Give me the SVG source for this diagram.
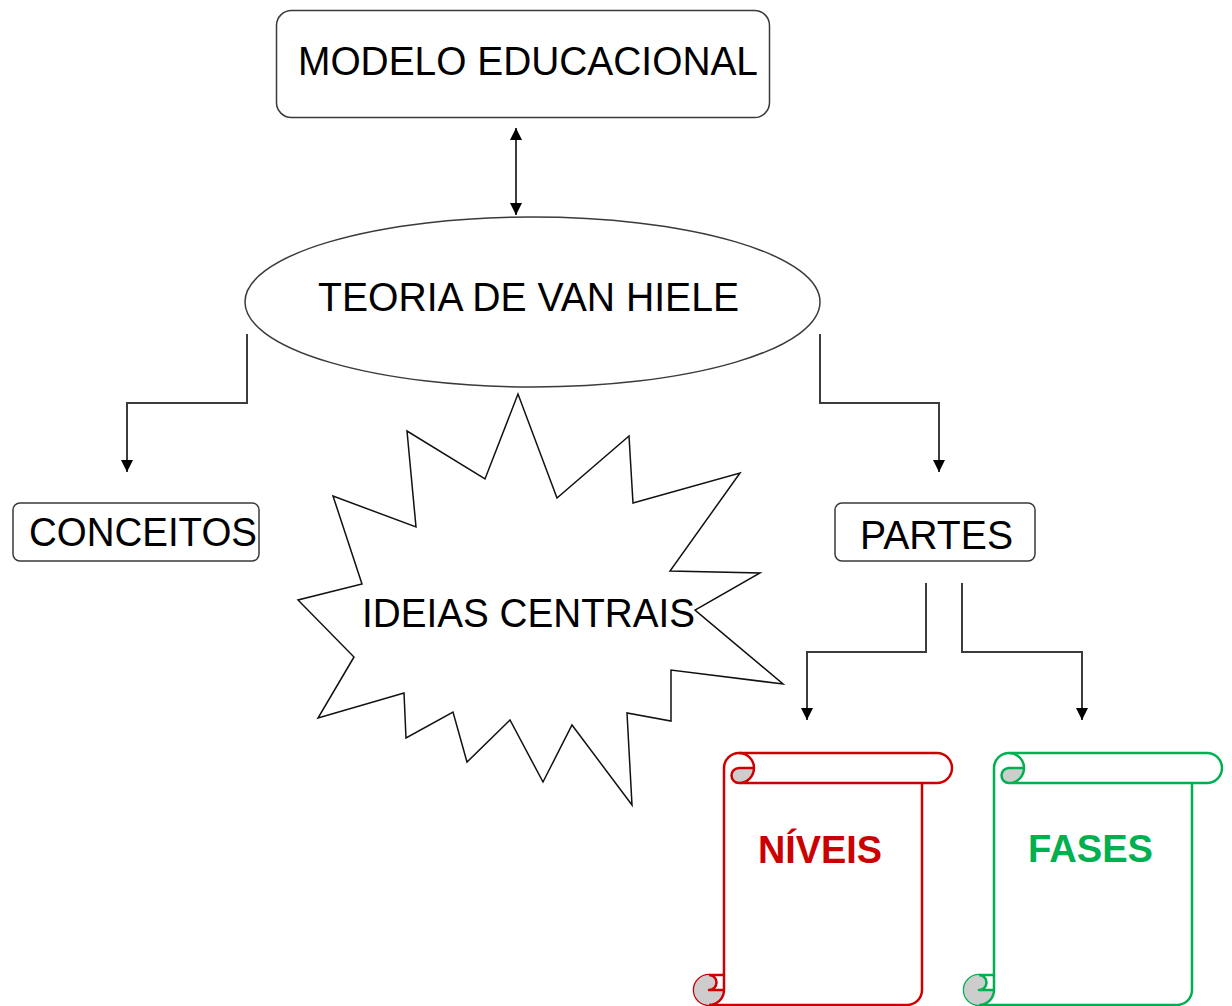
<svg xmlns="http://www.w3.org/2000/svg" width="1232" height="1006" viewBox="0 0 1232 1006">
<style>
.box{fill:#fff;stroke:#3a3a3a;stroke-width:1.5}
.lbl{font-family:"Liberation Sans",Arial,sans-serif;font-size:41px;fill:#000}
.bold{font-family:"Liberation Sans",Arial,sans-serif;font-size:38px;font-weight:bold}
.conn{fill:none;stroke:#3c3c3c;stroke-width:2}
.scroll-red{fill:#fff;stroke:#cc0000;stroke-width:2.5;stroke-linejoin:round}
.scroll-green{fill:#fff;stroke:#00b050;stroke-width:2.5;stroke-linejoin:round}
.curl{fill:#cdcdcd;stroke:none}
</style>
<defs>
<marker id="ah" markerUnits="userSpaceOnUse" markerWidth="12" markerHeight="14" viewBox="0 0 12 14" refX="12" refY="7" orient="auto-start-reverse">
<path d="M0,1 L12,7 L0,13 Z" fill="#000"/>
</marker>
<path id="scrollBody" d="M724,975 L724,768 A15,15 0 0 1 739,753 L937,753 A15,15 0 0 1 937,783 L922,783 L922,990 A15,15 0 0 1 907,1005 L709,1005 A15,15 0 0 1 709,975 Z"/>
<path id="scrollCurl" d="M754,768 A15,15 0 0 1 739,783 A7.5,7.5 0 0 1 739,768 Z M724,990 A15,15 0 1 1 709,975 A7.5,7.5 0 0 1 709,990 Z"/>
<path id="scrollLines" d="M739,753 A15,15 0 0 1 739,783 A7.5,7.5 0 0 1 739,768 L754,768 M922,783 L739,783 M709,975 A7.5,7.5 0 0 1 709,990 L724,990 M709,1005 A15,15 0 0 0 724,990 L724,975" fill="none"/>
</defs>

<g id="connectors">
<path class="conn" d="M516,128 L516,215" marker-start="url(#ah)" marker-end="url(#ah)"/>
<path class="conn" d="M247,334 L247,403 L127,403 L127,472" marker-end="url(#ah)"/>
<path class="conn" d="M820,334 L820,403 L939,403 L939,472" marker-end="url(#ah)"/>
<path class="conn" d="M926,583 L926,652 L807,652 L807,720" marker-end="url(#ah)"/>
<path class="conn" d="M962,583 L962,652 L1082,652 L1082,720" marker-end="url(#ah)"/>
</g>

<g id="modelo-educacional">
<rect class="box" x="276.5" y="10.5" width="493" height="107" rx="15"/>
<text class="lbl" x="298" y="75" textLength="460" lengthAdjust="spacingAndGlyphs">MODELO EDUCACIONAL</text>
</g>

<g id="teoria-van-hiele">
<ellipse class="box" cx="532.5" cy="302" rx="287.5" ry="85"/>
<text class="lbl" x="318" y="311" textLength="421" lengthAdjust="spacingAndGlyphs">TEORIA DE VAN HIELE</text>
</g>

<g id="conceitos">
<rect class="box" x="13" y="503" width="246" height="58" rx="7"/>
<text class="lbl" x="29" y="546" textLength="228" lengthAdjust="spacingAndGlyphs">CONCEITOS</text>
</g>

<g id="partes">
<rect class="box" x="835" y="503" width="200" height="58" rx="7"/>
<text class="lbl" x="860" y="549" textLength="153" lengthAdjust="spacingAndGlyphs">PARTES</text>
</g>

<g id="ideias-centrais">
<polygon fill="#fff" stroke="#111" stroke-width="1.5" stroke-linejoin="miter" points="518,394 485,479 407,431 416,527 333,496 362,584 298,600 354,657 318,718 404,693 406,738 453,712 467,762 510,720 543,782 572,725 632,805 627,713 671,721 671,670 783,684 695,610 760,573 670,571 740,473 633,503 629,436 557,498"/>
<text class="lbl" x="362" y="627" textLength="333" lengthAdjust="spacingAndGlyphs">IDEIAS CENTRAIS</text>
</g>

<g id="niveis">
<use href="#scrollBody" class="scroll-red"/>
<use href="#scrollCurl" class="curl"/>
<use href="#scrollLines" class="scroll-red" style="fill:none"/>
<text class="bold" x="758" y="863" fill="#cc0000" textLength="124" lengthAdjust="spacingAndGlyphs">NÍVEIS</text>
</g>

<g id="fases" transform="translate(270,0)">
<use href="#scrollBody" class="scroll-green"/>
<use href="#scrollCurl" class="curl"/>
<use href="#scrollLines" class="scroll-green" style="fill:none"/>
<text class="bold" x="758" y="862" fill="#00b050" textLength="125" lengthAdjust="spacingAndGlyphs">FASES</text>
</g>
</svg>
